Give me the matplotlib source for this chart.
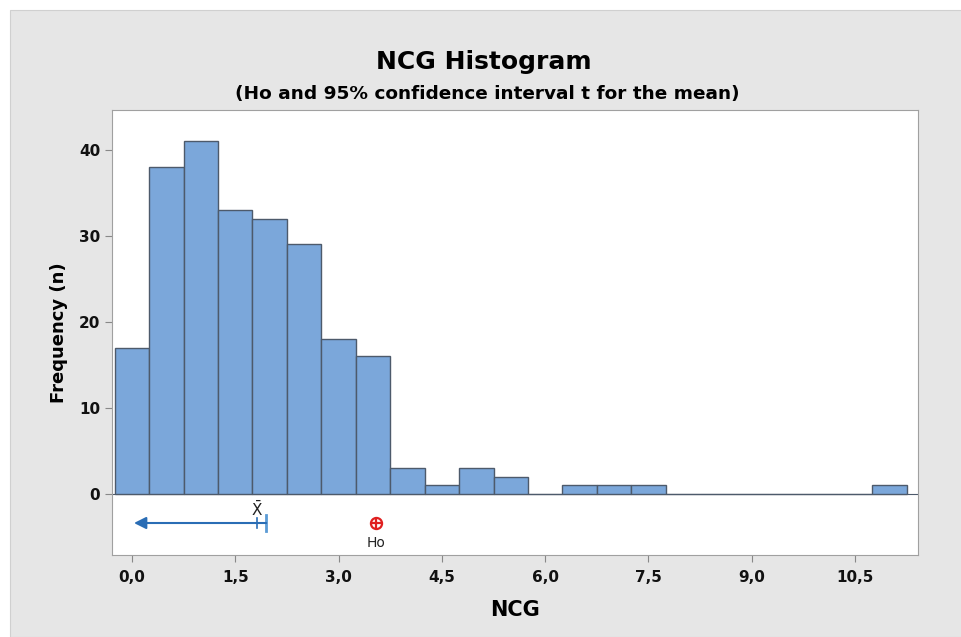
import matplotlib
matplotlib.use("Agg")
from matplotlib import pyplot as plt
from matplotlib.patches import Rectangle
from matplotlib.ticker import FuncFormatter

# histogram bins (centers, width 0.5) and counts
bin_centers = [0.0, 0.5, 1.0, 1.5, 2.0, 2.5, 3.0, 3.5, 4.0, 4.5, 5.0, 5.5, 6.0,
               6.5, 7.0, 7.5, 8.0, 8.5, 9.0, 9.5, 10.0, 10.5, 11.0]
counts = [17, 38, 41, 33, 32, 29, 18, 16, 3, 1, 3, 2, 0,
          1, 1, 1, 0, 0, 0, 0, 0, 0, 1]
bin_width = 0.5

# one-sided 95% t interval for the mean and the hypothesized value
ci_low = 0.03
mean_val = 1.81
ci_high = 1.95
ho_val = 3.54
ci_y = -3.4

x_ticks = [0.0, 1.5, 3.0, 4.5, 6.0, 7.5, 9.0, 10.5]
y_ticks = [0, 10, 20, 30, 40]

fig = plt.figure(figsize=(9.61, 6.37), dpi=100)
fig.patch.set_facecolor("white")
fig.patches.append(Rectangle((10 / 961, 0), 1, 1 - 10 / 637, transform=fig.transFigure,
                             facecolor="#e6e6e6", edgecolor="#d0d0d0", lw=0.8, zorder=-10))

ax = fig.add_axes([0.1165, 0.129, 0.8385, 0.698])
ax.set_facecolor("white")

ax.bar(bin_centers, counts, width=bin_width, color="#7ba7da", edgecolor="#4d5a6b",
       linewidth=1.0, zorder=3)
ax.axhline(0, color="#4d5a6b", lw=0.8, zorder=2)

# confidence interval (upper bound only, arrow to the left)
ax.annotate("", xy=(ci_low, ci_y), xytext=(ci_high, ci_y),
            arrowprops=dict(arrowstyle="-|>", color="#2a6db5", lw=1.5,
                            mutation_scale=18, shrinkA=0, shrinkB=0))
ax.plot([ci_high, ci_high], [ci_y - 0.9, ci_y + 0.9], color="#5b9bd5", lw=2.0)
ax.plot([mean_val, mean_val], [ci_y - 0.6, ci_y + 0.6], color="#2a6db5", lw=1.2)
ax.text(mean_val, ci_y + 0.5, r"$\bar{\mathrm{X}}$", ha="center", va="bottom",
        fontsize=11, color="#222222")

ax.plot(ho_val, ci_y, marker="o", ms=8, mfc="white", mec="#e02020", mew=1.6)
ax.plot(ho_val, ci_y, marker="+", ms=8, color="#e02020", mew=1.6)
ax.text(ho_val, ci_y - 1.5, "Ho", ha="center", va="top", fontsize=10, color="#222222")

ax.set_xlim(-0.29, 11.41)
ax.set_ylim(-7.1, 44.6)
ax.set_xticks(x_ticks)
ax.set_yticks(y_ticks)
ax.xaxis.set_major_formatter(FuncFormatter(lambda v, p: f"{v:.1f}".replace(".", ",")))

for lbl in ax.get_xticklabels() + ax.get_yticklabels():
    lbl.set_fontweight("bold")
    lbl.set_fontsize(11)
ax.tick_params(axis="both", colors="#888888", labelcolor="#111111", length=5, width=0.8)
ax.tick_params(axis="x", pad=6)
for s in ax.spines.values():
    s.set_color("#a0a0a0")
    s.set_linewidth(0.8)

ax.set_xlabel("NCG", fontsize=15, fontweight="bold", labelpad=11)
ax.set_ylabel("Frequency (n)", fontsize=13, fontweight="bold", labelpad=8)

fig.text(0.503, 0.902, "NCG Histogram", ha="center", va="center",
         fontsize=18, fontweight="bold")
fig.text(0.507, 0.853, "(Ho and 95% confidence interval t for the mean)",
         ha="center", va="center", fontsize=13.3, fontweight="bold")

fig.savefig("out.png", dpi=100, facecolor=fig.get_facecolor())
